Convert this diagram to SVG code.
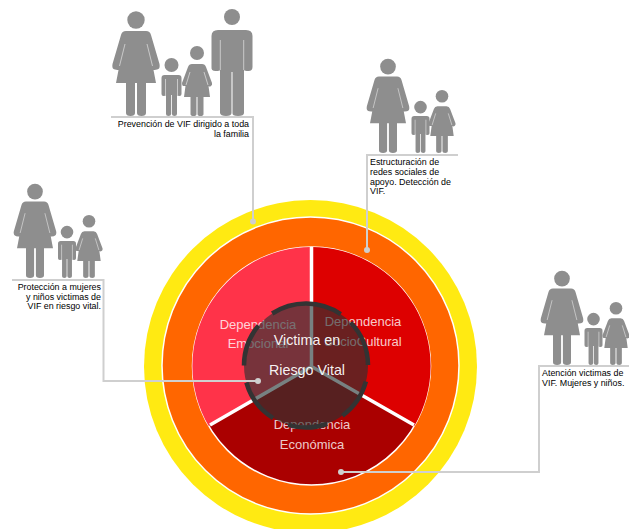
<svg xmlns="http://www.w3.org/2000/svg" width="629" height="529" viewBox="0 0 629 529">
<style>
.p{fill:#8e8e8e}
.s{stroke:#e2e2e2;stroke-width:.7;fill:none}
.ld{stroke:#cfcfcf;stroke-width:2;fill:none}
.dot{fill:#cfcfcf}
.cap{font:8.900px "Liberation Sans",Arial,sans-serif;fill:#000}
.end{text-anchor:end}
.lb{font:13px "Liberation Sans",Arial,sans-serif;fill:#fff;fill-opacity:.8;text-anchor:middle}
.vt{font:14.300px "Liberation Sans",Arial,sans-serif;fill:#fff;fill-opacity:.95;text-anchor:middle}
.seg{stroke:#333;stroke-width:4.500;fill:none}
</style>
<defs>
<g id="woman"><circle class="p" cy="-96" r="8.700"/><path class="p" d="M-10-85H10Q14-85 15-81L23.500-52Q24.500-47 21-46.500 18-46 17.500-46L20-33H10V-3Q10 0 5.500 0T1-3V-33H-1V-3Q-1 0-5.500 0T-10-3V-33H-20L-17.500-46Q-18-46-21-46.500-24.500-47-23.500-52L-15-81Q-14-85-10-85Z"/><path class="s" d="M-11-72L-16.500-50M11-72L16.500-50"/></g>
<g id="man"><circle class="p" cy="-99" r="8"/><path class="p" d="M-14-86H14Q20.500-86 20.500-80V-49Q20.500-45 16.500-45T12-46V-3Q12 0 6 0T.5-3V-44H-.5V-3Q-.5 0-6 0T-12-3V-46Q-12-45-16.500-45T-20.500-49V-80Q-20.500-86-14-86Z"/><path class="s" d="M-11.700-76V-46M11.700-76V-46"/></g>
<g id="boy"><circle class="p" cy="-51" r="7"/><path class="p" d="M-7-41H7Q10-41 10-38V-22Q10-20 8-20T5.500-21V-2Q5.500 0 3 0T.4-2V-21H-.4V-2Q-.4 0-3 0T-5.500-2V-21Q-6-20-8-20T-10-22V-38Q-10-41-7-41Z"/><path class="s" d="M-6-37V-21M6-37V-21"/></g>
<g id="girl"><circle class="p" cy="-63" r="7"/><path class="p" d="M-5-52H5Q8-52 9-49L15-33Q15.500-31 14-30T11.500-30L13-19H6.500V-2Q6.500 0 3.500 0T.5-2V-19H-.5V-2Q-.5 0-3.500 0T-6.500-2V-19H-13L-11.500-30Q-13-30-14-30T-15-33L-9-49Q-8-52-5-52Z"/><path class="s" d="M-7-44L-11-31M7-44L11-31"/></g>
</defs>

<g id="target">
<circle cx="310.500" cy="366.500" r="166.500" fill="#ffea12"/>
<circle cx="310.500" cy="365.500" r="148.500" fill="#ff6600" stroke="#fff" stroke-width="1.500"/>
<circle cx="311.500" cy="366" r="119" fill="#aa0000" stroke="#fff" stroke-width="1.500"/>
<path id="seg-emocional" d="M311.500 366.500L208.500 425.800A119 119 0 0 1 311.500 247Z" fill="#ff3349"/>
<path id="seg-sociocultural" d="M311.500 366.500V247A119 119 0 0 1 414.500 425.800Z" fill="#dd0000"/>
<path d="M311.500 247V366.500M311.500 366.500L210 425M311.500 366.500L414 425" stroke="#fff" stroke-width="3.500" fill="none"/>
</g>
<g id="labels-under">
<text class="lb" x="258" y="329">Dependencia</text>
<text class="lb" x="258" y="348">Emocional</text>
<text class="lb" x="363" y="326">Dependencia</text>
<text class="lb" x="363" y="346">SocioCultural</text>
<text class="lb" x="312" y="429">Dependencia</text>
<text class="lb" x="312" y="449">Económica</text>
</g>
<g id="center">
<circle cx="306" cy="365.500" r="62" fill="#243434" fill-opacity=".62"/>
<g class="seg">
<path d="M272.200 313.500A62 62 0 0 1 340.700 314.100"/>
<path d="M350.600 322.500A62 62 0 0 1 368 365"/>
<path d="M365.900 381.500A62 62 0 0 1 342.400 415.700"/>
<path d="M327.200 423.800A62 62 0 0 1 288 424.800"/>
<path d="M273.100 418.100A62 62 0 0 1 246.400 382.600"/>
<path d="M244 365.500A62 62 0 0 1 258.500 325.600"/>
</g>
<text class="vt" x="307" y="345">Victima en</text>
<text class="vt" x="307" y="375">Riesgo Vital</text>
</g>

<g id="connectors">
<path class="ld" d="M111 117H253V221.500"/>
<circle class="dot" cx="253" cy="221.500" r="3"/>
<path class="ld" d="M12 280H103.500V381H258"/>
<circle class="dot" cx="258" cy="381" r="3"/>
<path class="ld" d="M458 155H367V250"/>
<circle class="dot" cx="367" cy="250" r="3"/>
<path class="ld" d="M629 366H539V472H341"/>
<circle class="dot" cx="341" cy="472" r="3"/>
</g>

<g id="node-familia">
<use href="#woman" transform="translate(136 116)"/>
<use href="#boy" transform="translate(171.500 116)"/>
<use href="#girl" transform="translate(197 116)"/>
<use href="#man" transform="translate(232 116)"/>
<text class="cap end" x="249" y="127">Prevención de VIF dirigido a toda</text>
<text class="cap end" x="249" y="136.500">la familia</text>
</g>
<g id="node-proteccion">
<use href="#woman" transform="translate(35 278) scale(.9)"/>
<use href="#boy" transform="translate(67 278) scale(.9)"/>
<use href="#girl" transform="translate(89 278) scale(.9)"/>
<text class="cap end" x="101" y="290">Protección a mujeres</text>
<text class="cap end" x="101" y="300">y niños victimas de</text>
<text class="cap end" x="101" y="309">VIF en riesgo vital.</text>
</g>
<g id="node-estructuracion">
<use href="#woman" transform="translate(388 153) scale(.9)"/>
<use href="#boy" transform="translate(420.500 153) scale(.9)"/>
<use href="#girl" transform="translate(442 153) scale(.9)"/>
<text class="cap" x="370" y="165">Estructuración de</text>
<text class="cap" x="370" y="175">redes sociales de</text>
<text class="cap" x="370" y="185">apoyo. Detección de</text>
<text class="cap" x="370" y="194">VIF.</text>
</g>
<g id="node-atencion">
<use href="#woman" transform="translate(562 365) scale(.9)"/>
<use href="#boy" transform="translate(593.500 365) scale(.9)"/>
<use href="#girl" transform="translate(616 365) scale(.9)"/>
<text class="cap" x="542" y="376">Atención victimas de</text>
<text class="cap" x="542" y="386">VIF. Mujeres y niños.</text>
</g>
</svg>
